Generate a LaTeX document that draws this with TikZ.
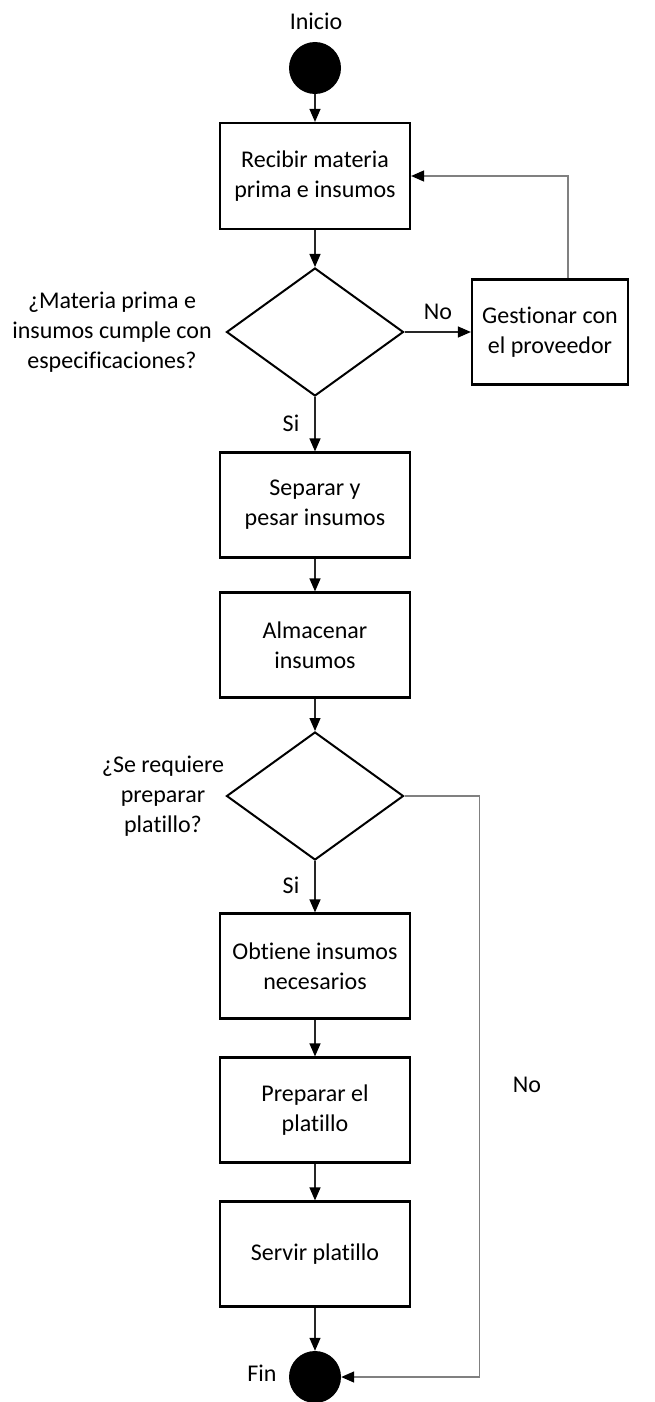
\documentclass[tikz,border=0pt]{standalone}
\usepackage{fontspec}
\setmainfont{Carlito}[RawFeature={-liga;-clig}]
\usetikzlibrary{arrows.meta,shapes.geometric}
\begin{document}
\begin{tikzpicture}[x=1pt,y=-1pt,
  every node/.style={font=\fontsize{24}{30}\selectfont},
  proc/.style={draw=black,line width=2.2pt,minimum width=190pt,minimum height=105pt,align=center,inner sep=0pt},
  dec/.style={diamond,draw=black,line width=2pt,minimum width=177pt,minimum height=128pt,inner sep=0pt},
  term/.style={circle,fill=black,minimum size=52pt,inner sep=0pt},
  lbl/.style={align=center,inner sep=0pt},
  flow/.style={draw=black!85,line width=1.2pt,-{Triangle[length=13pt,width=11pt,color=black]}},
  back/.style={draw=black!50,line width=1.5pt,-{Triangle[length=13pt,width=11pt,color=black]}}
]
\useasboundingbox (0,0) rectangle (654,1402);
% nodes
\node[lbl] (tIni) at (316,21) {Inicio};
\node[term] (ini) at (315,68) {};
\node[proc,minimum height=106pt] (b1) at (315,176) {Recibir materia\\prima e insumos};
\node[dec] (d1) at (315,332) {};
\node[lbl] (q1) at (112,332) {¿Materia prima e\\insumos cumple con\\especificaciones?};
\node[proc,minimum width=156pt] (g) at (550,332) {Gestionar con\\el proveedor};
\node[proc] (b2) at (315,505) {Separar y\\pesar insumos};
\node[proc] (b3) at (315,645) {Almacenar\\insumos};
\node[dec] (d2) at (315,796) {};
\node[lbl] (q2) at (163,796) {¿Se requiere\\preparar\\platillo?};
\node[proc] (b4) at (315,966) {Obtiene insumos\\necesarios};
\node[proc] (b5) at (315,1110) {Preparar el\\platillo};
\node[proc] (b6) at (315,1254) {Servir platillo};
\node[term] (fin) at (315,1377) {};
\node[lbl] (tFin) at (262,1373) {Fin};
\node[lbl] (tNo1) at (438,312) {No};
\node[lbl] (tSi1) at (291,423) {Si};
\node[lbl] (tSi2) at (291,885) {Si};
\node[lbl] (tNo2) at (527,1085) {No};
\coordinate (gtop) at ([xshift=18pt]g.north);
\coordinate (d2r) at ([xshift=75pt]d2.east);
% connectors
\draw[flow] (ini) -- (b1);
\draw[flow] (b1) -- (d1);
\draw[flow] (d1) -- (g);
\draw[back] (gtop) |- (b1.east);
\draw[flow] (d1) -- (b2);
\draw[flow] (b2) -- (b3);
\draw[flow] (b3) -- (d2);
\draw[back] (d2.east) -- (d2r) |- (fin.east);
\draw[flow] (d2) -- (b4);
\draw[flow] (b4) -- (b5);
\draw[flow] (b5) -- (b6);
\draw[flow] (b6) -- (fin);
\end{tikzpicture}
\end{document}
